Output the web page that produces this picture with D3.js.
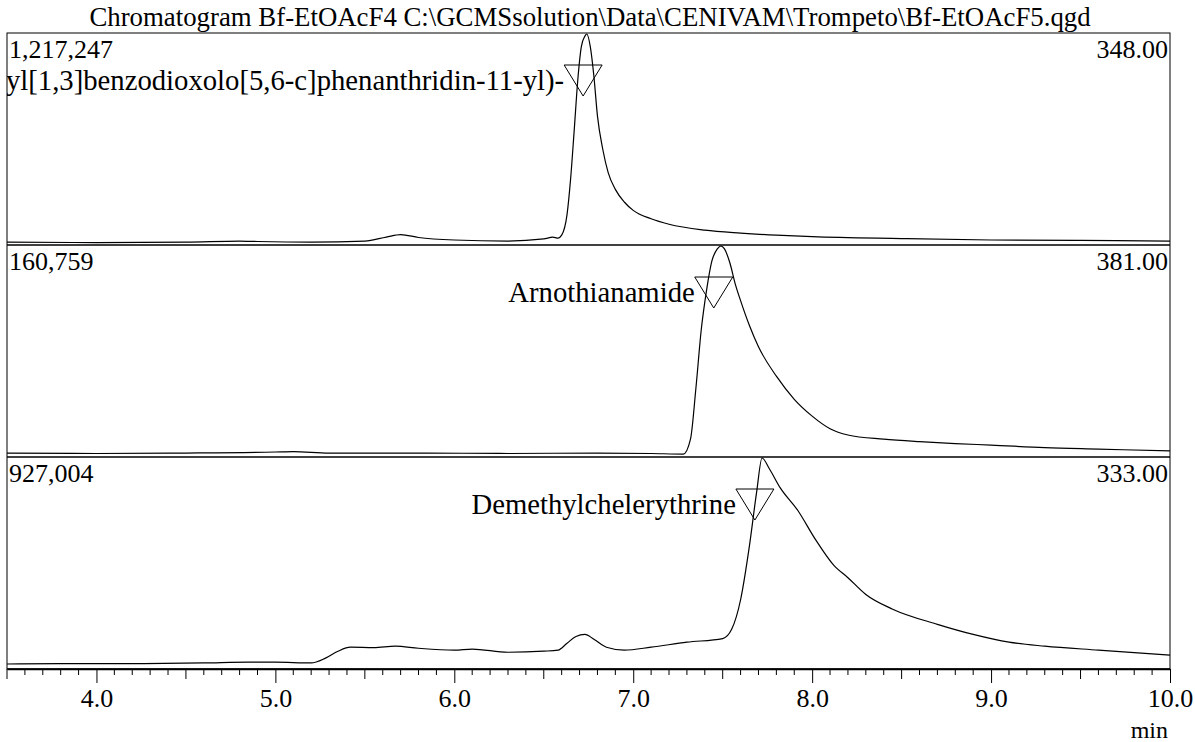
<!DOCTYPE html>
<html lang="en">
<head>
<meta charset="UTF-8">
<title>Chromatogram Bf-EtOAcF4</title>
<script src="https://d3js.org/d3.v7.min.js"></script>
<style>
    body { margin: 0; background: #fff; }
</style>
</head>
<body>
<div id="chart"></div>
<script>
// retention time (min) and relative intensity (% of panel max)
var times348 = [3.5, 4.0, 4.5, 4.8, 4.9, 5.2, 5.5, 5.62, 5.7, 5.8, 6.0, 6.3, 6.5, 6.55, 6.58, 6.6, 6.63, 6.65, 6.67, 6.69, 6.71, 6.73, 6.74, 6.76, 6.78, 6.80, 6.83, 6.86, 6.9, 6.95, 7.0, 7.1, 7.2, 7.4, 7.6, 7.8, 8.0, 8.5, 9.0, 9.5, 10.0];
var rel348   = [0.9, 0.7, 0.9, 1.4, 1.2, 0.9, 1.4, 3.3, 4.5, 3.1, 1.9, 1.4, 2.4, 3.3, 2.8, 4.2, 14, 31, 54, 78, 94, 99, 100, 94, 80, 61, 45, 34, 26, 20, 16, 12, 9.4, 6.6, 5.2, 4.2, 3.5, 2.6, 1.9, 1.7, 1.4];

var times381 = [3.5, 4.0, 4.5, 5.0, 5.1, 5.3, 5.8, 6.3, 6.8, 7.1, 7.28, 7.32, 7.35, 7.38, 7.41, 7.44, 7.47, 7.49, 7.51, 7.54, 7.57, 7.6, 7.65, 7.7, 7.8, 7.9, 8.0, 8.1, 8.2, 8.4, 8.6, 8.8, 9.0, 9.3, 9.6, 10.0];
var rel381   = [1.4, 1.2, 1.4, 1.9, 2.1, 1.4, 1.4, 1.2, 1.4, 1.2, 0.9, 8, 32, 60, 79, 93, 98.6, 100, 98.6, 92, 82, 74, 62, 52, 38, 27, 19, 13, 10, 8, 6.8, 5.9, 5.2, 4, 3.3, 2.4];

var times333 = [3.5, 3.8, 4.2, 4.6, 4.85, 5.0, 5.2, 5.28, 5.35, 5.42, 5.55, 5.67, 5.8, 6.0, 6.1, 6.3, 6.5, 6.58, 6.63, 6.68, 6.73, 6.78, 6.85, 6.95, 7.1, 7.3, 7.5, 7.55, 7.6, 7.65, 7.69, 7.72, 7.76, 7.82, 7.92, 8.02, 8.12, 8.2, 8.3, 8.45, 8.7, 8.9, 9.1, 9.3, 9.6, 10.0];
var rel333   = [1.9, 2.1, 2.1, 2.4, 2.8, 2.8, 2.4, 4.7, 8, 9.9, 9.7, 10.4, 9.4, 8.5, 9, 7.5, 8, 8.5, 11.8, 15, 16, 13.7, 9.9, 8.5, 9.9, 12.3, 14, 18.4, 32.5, 58.5, 84, 100, 95, 86, 75, 61, 49, 43, 35, 28, 20.8, 16, 12.3, 10.4, 8.5, 6.1];

var panelMax  = ["1,217,247", "160,759", "927,004"];
var panelMz   = ["348.00", "381.00", "333.00"];
var peakNames = ["2-(1,2-dimethoxy-12-methyl[1,3]benzodioxolo[5,6-c]phenanthridin-11-yl)-", "Arnothianamide", "Demethylchelerythrine"];
var peakTimes = [6.72, 7.45, 7.68];
var majorTicks = [4.0, 5.0, 6.0, 7.0, 8.0, 9.0, 10.0];
var titleText = "Chromatogram Bf-EtOAcF4 C:\\GCMSsolution\\Data\\CENIVAM\\Trompeto\\Bf-EtOAcF5.qgd";

var FONT = "'Liberation Serif', 'Times New Roman', Times, 'DejaVu Serif', serif";

var W = 1195, H = 742,
    plotL = 7, plotR = 1170, plotT = 33, panelH = 212;
var plotB = plotT + panelH * 3;

var panels = [
    {t: times348, v: rel348},
    {t: times381, v: rel381},
    {t: times333, v: rel333}
];

var svg = d3.select("#chart").append("svg")
    .attr("width", W)
    .attr("height", H)
    .style("font-family", FONT);

var x = d3.scaleLinear().domain([3.5, 10.0]).range([plotL, plotR]);

svg.append("defs").append("clipPath").attr("id", "plotclip")
    .append("rect")
    .attr("x", plotL).attr("y", plotT)
    .attr("width", plotR - plotL).attr("height", plotB - plotT);

function label(sel, size) {
    return sel.style("font-family", FONT).style("font-size", size + "px").attr("fill", "#000");
}

// title
label(svg.append("text"), 26.8)
    .attr("x", 590)
    .attr("y", 26)
    .attr("text-anchor", "middle")
    .text(titleText);

panels.forEach(function(p, i) {
    var pTop = plotT + i * panelH;
    var y = d3.scaleLinear().domain([0, 100]).range([pTop + panelH - 1, pTop + 1]);
    var g = svg.append("g").attr("clip-path", "url(#plotclip)");

    var line = d3.line()
        .x(function(d, k) { return x(p.t[k]); })
        .y(function(d) { return y(d); })
        .curve(d3.curveMonotoneX);

    g.append("path")
        .datum(p.v)
        .attr("d", line)
        .attr("fill", "none")
        .attr("stroke", "#000")
        .attr("stroke-width", 1.2);

    // panel separator
    g.append("line")
        .attr("x1", plotL).attr("x2", plotR)
        .attr("y1", pTop + panelH).attr("y2", pTop + panelH)
        .attr("stroke", "#000")
        .attr("stroke-width", 1.5);

    // peak marker
    var cx = x(peakTimes[i]), ty = pTop + 32;
    g.append("path")
        .attr("d", "M" + (cx - 19) + "," + ty + "L" + (cx + 19) + "," + ty + "L" + cx + "," + (ty + 31) + "Z")
        .attr("fill", "none")
        .attr("stroke", "#000")
        .attr("stroke-width", 1);

    label(g.append("text"), 28.7)
        .attr("x", cx - 19)
        .attr("y", pTop + 57)
        .attr("text-anchor", "end")
        .text(peakNames[i]);

    label(svg.append("text"), 26)
        .attr("x", plotL + 2)
        .attr("y", pTop + 25)
        .text(panelMax[i]);

    label(svg.append("text"), 26)
        .attr("x", plotR - 2)
        .attr("y", pTop + 25)
        .attr("text-anchor", "end")
        .text(panelMz[i]);
});

// frame
svg.append("rect")
    .attr("x", plotL).attr("y", plotT)
    .attr("width", plotR - plotL).attr("height", plotB - plotT)
    .attr("fill", "none")
    .attr("stroke", "#000")
    .attr("stroke-width", 1);

// minor ticks every 0.1 min, longer at half minutes
var minor = d3.range(35, 101).map(function(k) { return k / 10; })
    .filter(function(v) { return majorTicks.indexOf(v) < 0; });

svg.append("g")
    .attr("transform", "translate(0," + plotB + ")")
    .selectAll("line")
    .data(minor)
    .enter().append("line")
    .attr("x1", function(d) { return x(d); })
    .attr("x2", function(d) { return x(d); })
    .attr("y1", 0)
    .attr("y2", function(d) { return Math.abs(d * 2 - Math.round(d * 2)) < 1e-6 ? 10 : 6; })
    .attr("stroke", "#000")
    .attr("stroke-width", 1);

var xAxis = svg.append("g")
    .attr("transform", "translate(0," + plotB + ")")
    .call(d3.axisBottom(x)
        .tickValues(majorTicks)
        .tickFormat(d3.format(".1f"))
        .tickSize(14)
        .tickSizeOuter(0)
        .tickPadding(6));
xAxis.attr("font-family", null);
xAxis.select(".domain").attr("stroke-width", 1.5);
label(xAxis.selectAll("text"), 26);

label(svg.append("text"), 24)
    .attr("x", plotR - 2)
    .attr("y", 738)
    .attr("text-anchor", "end")
    .text("min");
</script>
</body>
</html>
